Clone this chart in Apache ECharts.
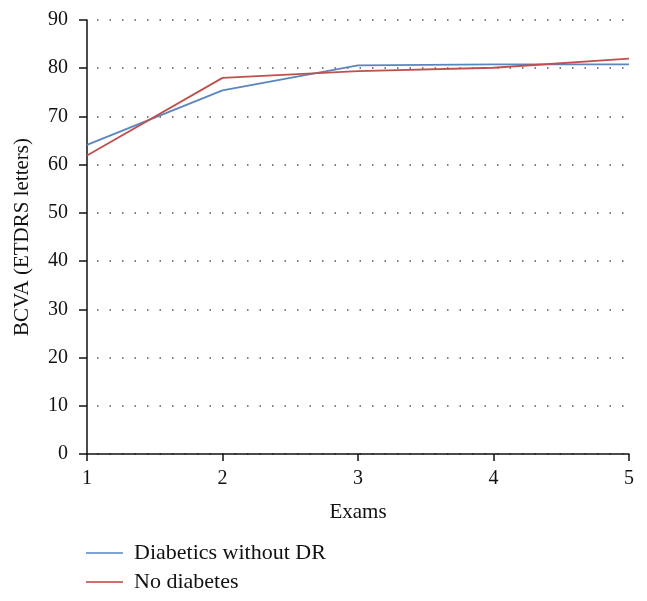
<!DOCTYPE html>
<html><head><meta charset="utf-8">
<script src="https://cdn.jsdelivr.net/npm/echarts@6/dist/echarts.min.js"></script>
<style>html,body{margin:0;padding:0;background:#fff}#c{width:647px;height:601px}</style>
</head><body><div id="c"></div>
<script>
var exams = [1, 2, 3, 4, 5];
var seriesNames = ['Diabetics without DR', 'No diabetes'];
var diabeticsWithoutDR = [64.1, 75.4, 80.6, 80.8, 80.8];
var noDiabetes = [61.9, 78.0, 79.4, 80.1, 82.0];
var yTicks = [0, 10, 20, 30, 40, 50, 60, 70, 80, 90];

var font = 'Liberation Serif';
function pairs(v){ return exams.map(function(x,i){ return [x, v[i]]; }); }
var chart = echarts.init(document.getElementById('c'));
chart.setOption({
  animation: false,
  grid: {left: 87, right: 18, top: 20, bottom: 147},
  xAxis: {
    type: 'value', min: 1, max: 5, interval: 1,
    name: 'Exams', nameLocation: 'middle', nameGap: 48,
    nameTextStyle: {fontFamily: font, fontSize: 21, color: '#111'},
    axisLine: {lineStyle: {color: '#111', width: 1.5}},
    axisTick: {show: true, length: 7, lineStyle: {color: '#111', width: 1.5}},
    axisLabel: {fontFamily: font, fontSize: 20, color: '#111', margin: 15},
    splitLine: {show: false}
  },
  yAxis: {
    type: 'value', min: yTicks[0], max: yTicks[yTicks.length-1], interval: 10,
    name: 'BCVA (ETDRS letters)', nameLocation: 'middle', nameGap: 54,
    nameTextStyle: {fontFamily: font, fontSize: 21, color: '#111'},
    axisLine: {show: true, lineStyle: {color: '#111', width: 1.5}},
    axisTick: {show: true, length: 8, lineStyle: {color: '#111', width: 1.5}},
    axisLabel: {fontFamily: font, fontSize: 20, color: '#111', margin: 19},
    splitLine: {show: true, lineStyle: {color: '#555', width: 1.5, type: [1.5, 11], dashOffset: -10}}
  },
  legend: {
    orient: 'vertical', left: 81, top: 537, itemGap: 7,
    itemWidth: 37, itemHeight: 2, icon: 'rect',
    textStyle: {fontFamily: font, fontSize: 22, color: '#111', padding: [0, 0, 0, 6]},
    data: seriesNames
  },
  series: [
    {name: seriesNames[0], type: 'line', data: pairs(diabeticsWithoutDR), symbol: 'none',
     lineStyle: {color: '#5a86c0', width: 1.8}, itemStyle: {color: '#7fa3d3'}},
    {name: seriesNames[1], type: 'line', data: pairs(noDiabetes), symbol: 'none',
     lineStyle: {color: '#c0504d', width: 1.8}, itemStyle: {color: '#d06f6c'}}
  ]
});
</script></body></html>
